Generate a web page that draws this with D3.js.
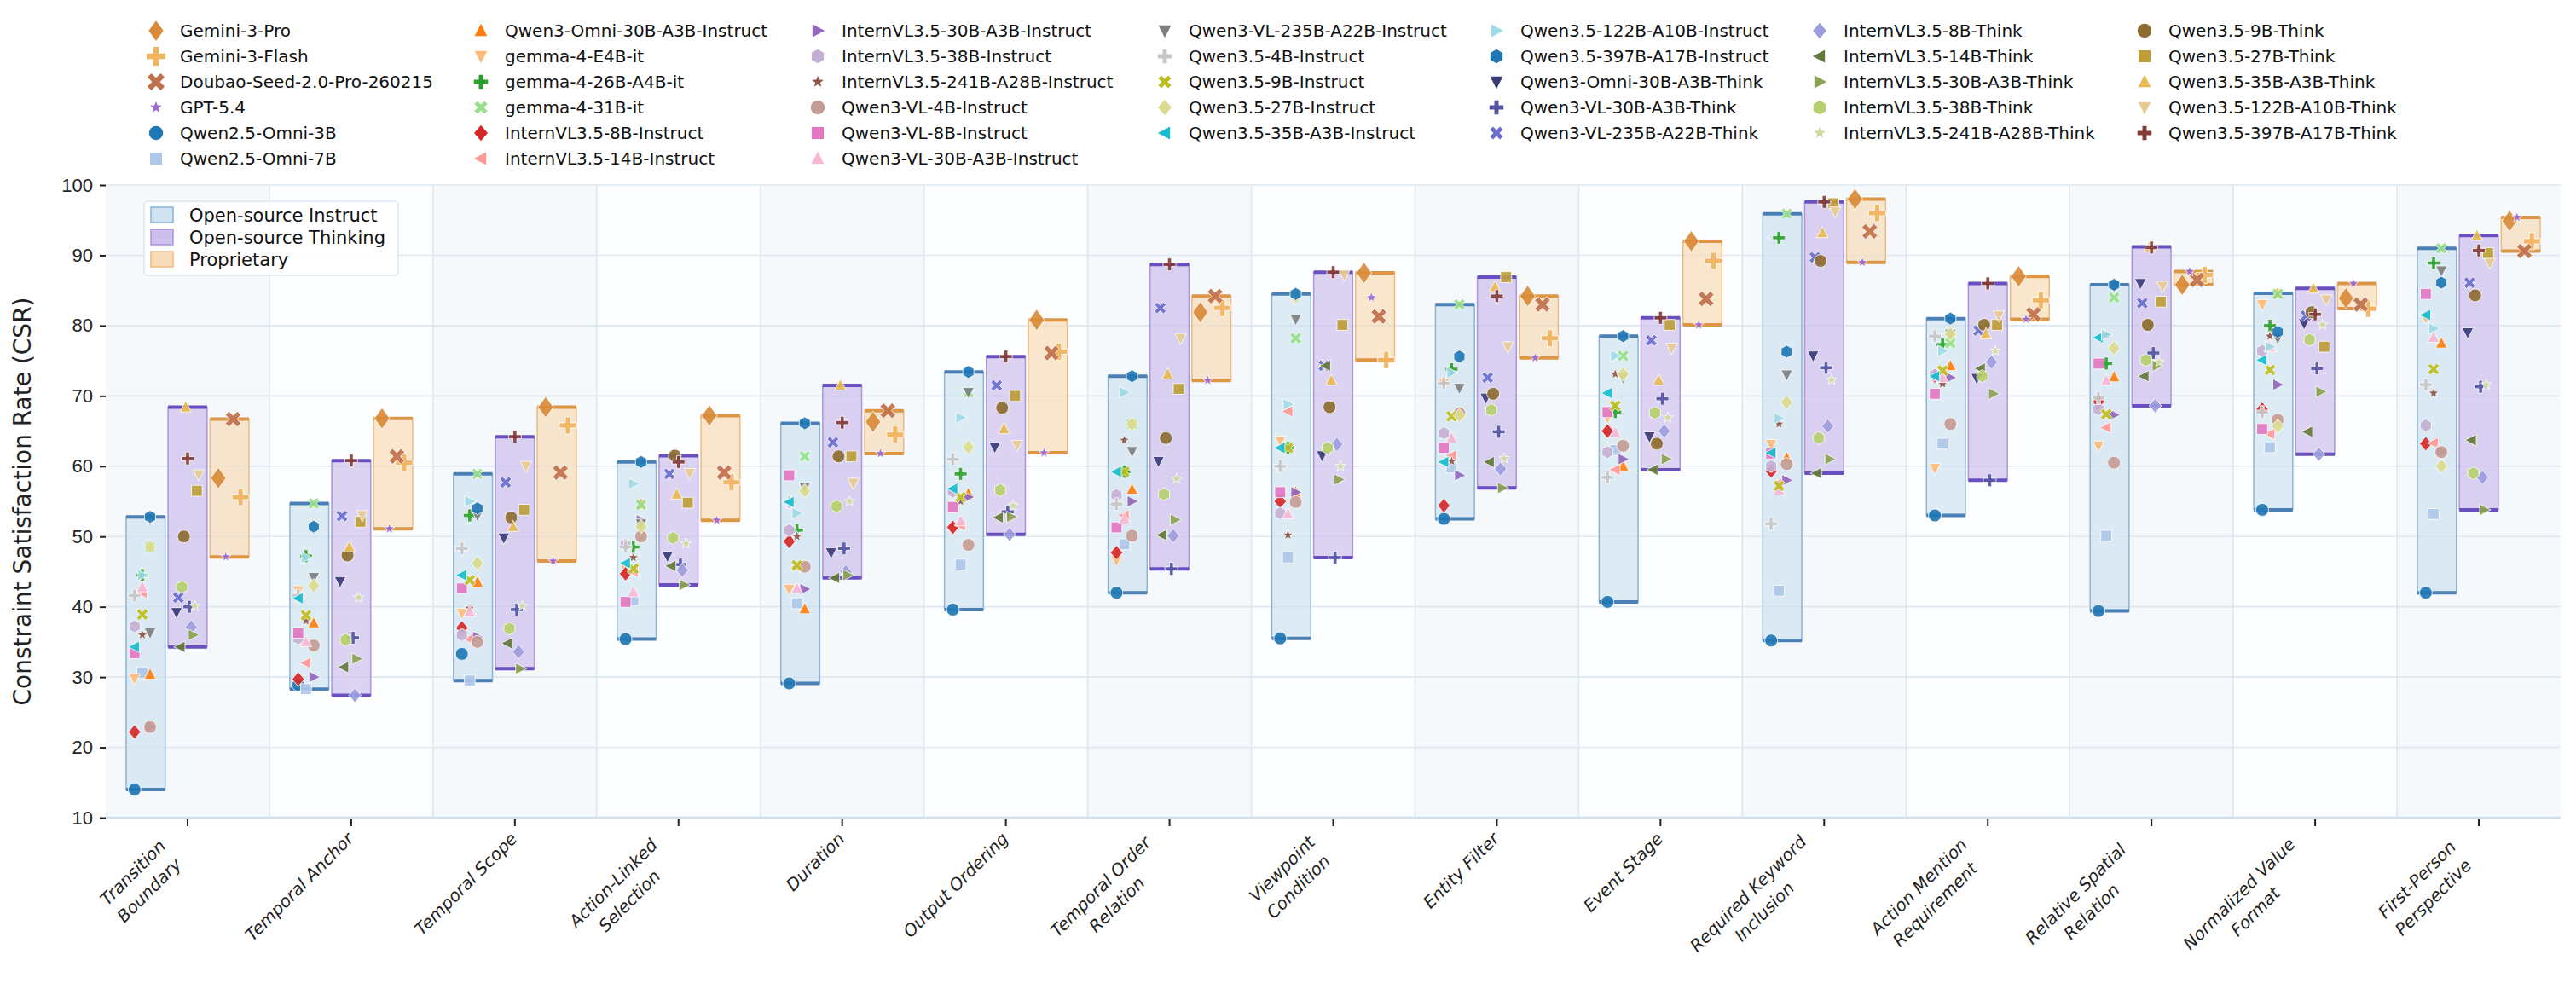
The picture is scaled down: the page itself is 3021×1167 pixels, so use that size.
<!DOCTYPE html>
<html lang="en">
<head>
<meta charset="UTF-8">
<title>CSR by constraint</title>
<script src="https://cdn.jsdelivr.net/npm/d3@7"></script>
<style>
  body { margin: 0; background: white; }
  svg { display: block; font-family: "DejaVu Sans", sans-serif; }
</style>
</head>
<body>
<svg id="chart" width="3021" height="1167"></svg>
<script>
// categories (x axis)
const categories = ["Transition\nBoundary", "Temporal Anchor", "Temporal Scope", "Action-Linked\nSelection",
  "Duration", "Output Ordering", "Temporal Order\nRelation", "Viewpoint\nCondition", "Entity Filter",
  "Event Stage", "Required Keyword\nInclusion", "Action Mention\nRequirement", "Relative Spatial\nRelation",
  "Normalized Value\nFormat", "First-Person\nPerspective"];
const yTicks = [10, 20, 30, 40, 50, 60, 70, 80, 90, 100];

// models: name, group, marker, colour
const modelNames = ["Gemini-3-Pro", "Gemini-3-Flash", "Doubao-Seed-2.0-Pro-260215", "GPT-5.4",
  "Qwen2.5-Omni-3B", "Qwen2.5-Omni-7B", "Qwen3-Omni-30B-A3B-Instruct", "gemma-4-E4B-it", "gemma-4-26B-A4B-it",
  "gemma-4-31B-it", "InternVL3.5-8B-Instruct", "InternVL3.5-14B-Instruct", "InternVL3.5-30B-A3B-Instruct",
  "InternVL3.5-38B-Instruct", "InternVL3.5-241B-A28B-Instruct", "Qwen3-VL-4B-Instruct", "Qwen3-VL-8B-Instruct",
  "Qwen3-VL-30B-A3B-Instruct", "Qwen3-VL-235B-A22B-Instruct", "Qwen3.5-4B-Instruct", "Qwen3.5-9B-Instruct",
  "Qwen3.5-27B-Instruct", "Qwen3.5-35B-A3B-Instruct", "Qwen3.5-122B-A10B-Instruct", "Qwen3.5-397B-A17B-Instruct",
  "Qwen3-Omni-30B-A3B-Think", "Qwen3-VL-30B-A3B-Think", "Qwen3-VL-235B-A22B-Think", "InternVL3.5-8B-Think",
  "InternVL3.5-14B-Think", "InternVL3.5-30B-A3B-Think", "InternVL3.5-38B-Think", "InternVL3.5-241B-A28B-Think",
  "Qwen3.5-9B-Think", "Qwen3.5-27B-Think", "Qwen3.5-35B-A3B-Think", "Qwen3.5-122B-A10B-Think", "Qwen3.5-397B-A17B-Think"];
const modelGroups = ["prop", "prop", "prop", "prop",
  "inst", "inst", "inst", "inst", "inst", "inst", "inst", "inst", "inst", "inst", "inst",
  "inst", "inst", "inst", "inst", "inst", "inst", "inst", "inst", "inst", "inst",
  "think", "think", "think", "think", "think", "think", "think", "think", "think", "think", "think", "think", "think"];
const modelMarkers = ["bigdiamond", "bigplus", "bigx", "star",
  "circle", "square", "up", "down", "plus", "x", "diamond", "left", "right", "hex", "star",
  "circle", "square", "up", "down", "plus", "x", "diamond", "left", "right", "hex",
  "down", "plus", "x", "diamond", "left", "right", "hex", "star",
  "circle", "square", "up", "down", "plus"];
const modelColors = ["#d98b3a", "#f0b35e", "#c0714b", "#9b6bd0",
  "#1f77b4", "#aec7e8", "#ff7f0e", "#ffbb78", "#2ca02c", "#98df8a", "#d62728", "#ff9896", "#9467bd",
  "#c5b0d5", "#8c564b", "#c49c94", "#e377c2", "#f7b6d2", "#7f7f7f", "#c7c7c7", "#bcbd22", "#dbdb8d",
  "#17becf", "#9edae5", "#1f77b4",
  "#393b79", "#5254a3", "#6b6ecf", "#9c9ede", "#637939", "#8ca252", "#b5cf6b", "#cedb9c",
  "#8c6d31", "#bd9e39", "#e7ba52", "#e7cb94", "#843c39"];

// CSR values, one array per model, in category order
const modelValues = [
  [58.3,66.8,68.4,67.2,66.3,80.8,81.9,87.5,84.2,92.0,98.0,87.0,85.8,83.9,94.9],
  [55.6,60.5,65.8,57.7,64.5,76.3,82.5,75.1,78.2,89.2,96.0,83.6,87.2,82.4,92.0],
  [66.7,61.4,59.1,59.1,67.9,76.1,84.2,81.3,83.0,83.8,93.4,81.6,86.5,83.0,90.6],
  [47.1,51.1,46.5,52.3,61.8,61.9,72.2,84.0,75.4,80.1,89.0,80.9,87.7,86.0,95.4],
  [14.0,28.9,33.3,35.4,29.1,39.6,42.0,35.5,52.5,40.7,35.2,53.0,39.4,53.8,42.0],
  [30.6,28.3,29.5,40.9,40.5,46.0,48.9,47.0,59.8,62.3,42.3,63.2,50.1,62.7,53.2],
  [30.4,37.7,43.5,54.6,39.7,56.1,56.7,56.3,67.5,60.0,61.2,74.3,72.7,84.6,77.5],
  [29.8,42.3,39.1,45.5,42.5,51.0,46.6,63.6,71.8,66.9,63.1,59.7,62.9,83.0,81.1],
  [44.5,47.2,53.0,48.5,50.9,58.9,59.2,62.6,73.8,67.7,92.5,77.3,74.6,80.0,88.9],
  [48.5,54.7,58.9,54.5,61.4,70.5,66.0,78.2,83.0,75.7,95.9,77.5,84.0,84.5,91.0],
  [22.2,29.7,37.0,44.7,49.3,51.3,47.7,55.0,54.4,65.0,59.3,72.8,69.2,68.1,63.2],
  [42.0,32.0,35.4,45.0,45.7,51.6,53.0,67.8,61.5,59.5,57.6,73.0,65.5,64.6,63.3],
  [23.0,30.0,35.7,52.3,42.5,55.6,55.0,56.3,58.7,61.0,58.0,72.6,67.3,71.6,62.1],
  [37.2,35.5,36.0,48.8,50.9,56.4,55.9,53.3,64.7,62.0,60.0,73.0,68.1,76.4,65.8],
  [36.0,38.0,39.8,47.0,50.0,55.0,63.7,50.2,60.7,73.1,66.0,71.7,78.7,78.5,70.4],
  [22.9,34.5,35.0,50.0,45.7,48.8,50.1,54.9,67.5,62.9,60.3,66.0,60.5,66.6,62.0],
  [33.4,36.3,42.6,40.7,58.7,54.2,51.3,56.3,62.6,67.7,61.8,70.3,74.6,65.3,84.5],
  [42.8,35.0,39.3,42.1,42.6,52.2,52.5,53.2,64.0,64.8,56.6,72.6,72.2,77.0,78.3],
  [36.3,44.2,53.0,51.8,57.0,70.5,62.1,80.9,71.1,72.6,73.0,78.8,85.6,78.2,87.8],
  [41.6,41.6,48.3,48.5,54.9,61.0,54.6,60.0,71.8,58.4,51.8,78.5,69.7,67.7,71.6],
  [38.9,38.8,43.8,45.4,45.9,55.6,59.2,62.6,67.1,68.6,57.2,73.6,67.4,73.7,73.8],
  [48.5,43.0,46.2,51.4,56.5,62.7,66.0,84.1,67.2,73.1,69.1,78.8,76.8,65.7,60.0],
  [34.3,41.2,44.5,46.2,54.9,56.8,59.2,62.6,60.6,70.4,61.9,72.8,78.3,75.1,81.5],
  [44.5,47.0,55.0,57.5,53.3,66.9,70.5,68.8,73.3,75.7,66.8,76.4,78.7,77.0,79.6],
  [52.8,51.4,54.0,60.6,66.1,73.4,72.8,84.5,75.6,78.5,76.3,81.0,85.8,79.1,86.1],
  [39.2,43.6,49.8,47.2,47.7,62.7,60.7,61.5,69.7,64.2,75.7,72.5,86.0,80.3,79.0],
  [40.0,35.6,39.6,46.0,48.3,53.5,45.4,47.0,64.9,69.6,74.0,58.0,76.1,73.9,71.3],
  [41.3,52.9,57.7,58.9,63.4,71.5,82.5,74.3,72.6,77.9,89.7,79.3,83.2,81.4,86.1],
  [37.1,27.4,33.6,45.2,45.0,50.3,50.1,63.1,59.6,65.0,65.7,74.8,68.6,61.7,58.4],
  [34.3,31.4,34.8,45.8,44.1,52.7,50.2,74.3,60.6,59.5,59.0,73.9,72.8,64.9,63.7],
  [36.0,32.6,31.2,43.1,44.5,52.8,52.4,58.1,56.9,61.0,61.0,70.3,74.3,70.6,53.8],
  [42.8,35.3,36.9,49.8,54.3,56.6,56.0,62.6,68.0,67.6,64.0,72.8,75.1,78.0,59.0],
  [40.1,41.3,40.1,49.0,55.0,54.4,58.2,60.0,61.1,66.9,72.3,76.4,74.8,80.1,71.6],
  [50.0,47.3,52.7,61.5,61.4,68.3,64.0,68.4,70.3,63.2,89.2,80.1,80.1,81.9,84.3],
  [56.5,52.1,53.8,54.8,61.4,70.0,71.0,80.1,86.9,80.1,97.4,80.1,83.4,77.0,90.3],
  [68.4,48.5,51.4,56.0,71.5,65.3,73.1,72.2,85.5,72.2,93.2,78.8,91.2,85.3,92.8],
  [58.8,53.0,60.0,59.0,57.6,63.0,78.2,87.2,77.0,76.8,96.2,81.4,85.6,83.7,88.9],
  [61.1,60.8,64.2,60.6,66.2,75.6,88.7,87.6,84.2,81.1,97.6,86.0,91.1,81.6,90.7]
];

const groups = ["inst", "think", "prop"];
const groupLabels = ["Open-source Instruct", "Open-source Thinking", "Proprietary"];
const groupFill = {inst: "#cfe2f1", think: "#cdbfec", prop: "#f8dcb8"};
const groupEdge = {inst: "#8db3d6", think: "#a996dc", prop: "#ebbb80"};
const groupLine = {inst: "#4a80b5", think: "#6a4fc0", prop: "#dc9645"};

const svg = d3.select("#chart");
const plotL = 124, plotR = 3003, plotT = 217, plotB = 959;

const x = d3.scaleBand().domain(d3.range(categories.length)).range([plotL, plotR]);
const sub = d3.scaleBand().domain(groups).range([-72, 72]).paddingInner(0.07);
const y = d3.scaleLinear().domain([10, 100]).range([plotB, plotT]);

// background bands
svg.append("g").selectAll("rect").data(d3.range(categories.length)).join("rect")
  .attr("x", d => x(d)).attr("y", plotT).attr("width", x.bandwidth()).attr("height", plotB - plotT)
  .attr("fill", d => d % 2 === 0 ? "#f6f9fc" : "#fdfeff");

// grid
svg.append("g").selectAll("line").data(yTicks).join("line")
  .attr("x1", plotL).attr("x2", plotR).attr("y1", d => y(d)).attr("y2", d => y(d))
  .attr("stroke", "#dde8f1").attr("stroke-width", 1.6);
svg.append("g").selectAll("line").data(d3.range(1, categories.length)).join("line")
  .attr("x1", d => x(d)).attr("x2", d => x(d)).attr("y1", plotT).attr("y2", plotB)
  .attr("stroke", "#dde8f1").attr("stroke-width", 1.6);
svg.append("line").attr("x1", plotL).attr("x2", plotR).attr("y1", plotB).attr("y2", plotB)
  .attr("stroke", "#d3e0ea").attr("stroke-width", 2.5);

// axes
const yAxis = svg.append("g").attr("transform", `translate(${plotL},0)`)
  .call(d3.axisLeft(y).tickValues(yTicks).tickSize(7).tickPadding(8));
yAxis.select(".domain").remove();
yAxis.selectAll("text").attr("font-size", 22).attr("fill", "#222");
yAxis.selectAll("line").attr("stroke", "#222").attr("stroke-width", 2);

const xAxis = svg.append("g").attr("transform", `translate(0,${plotB})`)
  .call(d3.axisBottom(x).tickSize(8).tickFormat(""));
xAxis.select(".domain").remove();
xAxis.selectAll("line").attr("stroke", "#222").attr("stroke-width", 2).attr("transform", "translate(0,2)");

// rotated category labels; extra lines stack down-right of the first
categories.forEach((c, i) => {
  const lines = c.split("\n");
  const cx = x(i) + x.bandwidth() / 2;
  const n = lines.length;
  lines.forEach((ln, k) => {
    const shift = n > 1 ? (k - (n - 1) / 2) : 0;
    const ax = cx + 4 + (n > 1 ? -12 : 0) + shift * 19;
    const ay = plotB + 26 + (n > 1 ? 12 : 0) + shift * 21;
    svg.append("text").attr("x", ax).attr("y", ay)
      .attr("transform", `rotate(-45,${ax},${ay})`)
      .attr("text-anchor", n > 1 ? "middle" : "end").attr("font-size", 20).attr("font-style", "italic")
      .attr("dx", n > 1 ? -d3.max(lines, l => l.length) * 5.9 : 0)
      .attr("fill", "#222").text(ln);
  });
});

svg.append("text").attr("transform", `translate(36,${(plotT + plotB) / 2}) rotate(-90)`)
  .attr("text-anchor", "middle").attr("font-size", 28).attr("fill", "#222")
  .text("Constraint Satisfaction Rate (CSR)");

// group range boxes
const boxG = svg.append("g");
categories.forEach((c, ci) => {
  groups.forEach(g => {
    const vals = modelValues.filter((v, mi) => modelGroups[mi] === g).map(v => v[ci]);
    const [lo, hi] = d3.extent(vals);
    const bx = x(ci) + x.bandwidth() / 2 + sub(g);
    boxG.append("rect").attr("x", bx).attr("y", y(hi)).attr("width", sub.bandwidth())
      .attr("height", y(lo) - y(hi)).attr("fill", groupFill[g]).attr("fill-opacity", 0.7)
      .attr("stroke", groupEdge[g]).attr("stroke-width", 1.5);
    [lo, hi].forEach(v => boxG.append("line").attr("x1", bx).attr("x2", bx + sub.bandwidth())
      .attr("y1", y(v)).attr("y2", y(v)).attr("stroke", groupLine[g]).attr("stroke-width", 4));
  });
});

// marker shapes
function markerPath(type, s) {
  const p = d3.path();
  const poly = pts => { pts.forEach((q, i) => i ? p.lineTo(q[0], q[1]) : p.moveTo(q[0], q[1])); p.closePath(); };
  const r = s / 2;
  switch (type) {
    case "circle": p.arc(0, 0, r, 0, 2 * Math.PI); break;
    case "square": poly([[-r*0.85,-r*0.85],[r*0.85,-r*0.85],[r*0.85,r*0.85],[-r*0.85,r*0.85]]); break;
    case "up": poly([[0,-r],[r*0.9,r*0.75],[-r*0.9,r*0.75]]); break;
    case "down": poly([[0,r],[r*0.9,-r*0.75],[-r*0.9,-r*0.75]]); break;
    case "left": poly([[-r,0],[r*0.75,-r*0.9],[r*0.75,r*0.9]]); break;
    case "right": poly([[r,0],[-r*0.75,-r*0.9],[-r*0.75,r*0.9]]); break;
    case "diamond": poly([[0,-r],[r*0.85,0],[0,r],[-r*0.85,0]]); break;
    case "bigdiamond": poly([[0,-r],[r*0.72,0],[0,r],[-r*0.72,0]]); break;
    case "hex": poly(d3.range(6).map(k => [r*Math.cos(Math.PI/6 + k*Math.PI/3), r*Math.sin(Math.PI/6 + k*Math.PI/3)])); break;
    case "plus": case "bigplus": { const w = r * 0.3;
      poly([[-w,-r],[w,-r],[w,-w],[r,-w],[r,w],[w,w],[w,r],[-w,r],[-w,w],[-r,w],[-r,-w],[-w,-w]]); break; }
    case "x": case "bigx": { const w = r * 0.3, c = Math.SQRT1_2;
      const pts = [[-w,-r],[w,-r],[w,-w],[r,-w],[r,w],[w,w],[w,r],[-w,r],[-w,w],[-r,w],[-r,-w],[-w,-w]];
      poly(pts.map(q => [(q[0]-q[1])*c, (q[0]+q[1])*c])); break; }
    case "star": poly(d3.range(10).map(k => { const a = -Math.PI/2 + k*Math.PI/5, rr = k % 2 ? r*0.42 : r;
      return [rr*Math.cos(a), rr*Math.sin(a)]; })); break;
  }
  return p.toString();
}
const markerSize = t => t === "bigdiamond" ? 25 : (t === "bigplus" || t === "bigx") ? 20 :
  t === "star" ? 13 : t === "diamond" ? 17 : 15;

// scatter points, spread across each box by rank within group
const jitter = d3.scaleLinear().domain([0, 1]).range([-13, 13]);
const ptG = svg.append("g");
groups.forEach(g => {
  const members = modelNames.map((n, i) => i).filter(i => modelGroups[i] === g);
  members.forEach((mi, k) => {
    categories.forEach((c, ci) => {
      const frac = members.length > 1 ? ((k * 7) % members.length) / (members.length - 1) : 0.5;
      const px = x(ci) + x.bandwidth() / 2 + sub(g) + sub.bandwidth() / 2 + jitter(frac);
      ptG.append("path").attr("d", markerPath(modelMarkers[mi], markerSize(modelMarkers[mi])))
        .attr("transform", `translate(${px},${y(modelValues[mi][ci])})`)
        .attr("fill", modelColors[mi]).attr("fill-opacity", 0.92)
        .attr("stroke", "white").attr("stroke-width", 0.8);
    });
  });
});

// inner group legend
const lg = svg.append("g");
lg.append("rect").attr("x", 169).attr("y", 236).attr("width", 298).attr("height", 87).attr("rx", 4)
  .attr("fill", "white").attr("fill-opacity", 0.85).attr("stroke", "#dde5ee").attr("stroke-width", 1.5);
groups.forEach((g, i) => {
  const yy = 252 + i * 26;
  lg.append("rect").attr("x", 177).attr("y", yy - 9).attr("width", 26).attr("height", 18)
    .attr("fill", groupFill[g]).attr("stroke", groupEdge[g]).attr("stroke-width", 1.5);
  lg.append("text").attr("x", 222).attr("y", yy).attr("dy", "0.36em").attr("font-size", 21)
    .attr("fill", "#111").text(groupLabels[i]);
});

// top model legend, 7 columns
const colX = [183, 564, 959, 1366, 1755, 2134, 2515];
const colStart = [0, 6, 12, 18, 23, 28, 33, 38];
const tl = svg.append("g");
modelNames.forEach((n, i) => {
  const col = d3.bisectRight(colStart, i) - 1, row = i - colStart[col];
  const yy = 36 + row * 30;
  const t = modelMarkers[i];
  tl.append("path").attr("d", markerPath(t, markerSize(t) * (t === "bigdiamond" ? 0.95 : 1.1)))
    .attr("transform", `translate(${colX[col]},${yy})`).attr("fill", modelColors[i]);
  tl.append("text").attr("x", colX[col] + 28).attr("y", yy).attr("dy", "0.36em")
    .attr("font-size", 20).attr("fill", "#111").text(n);
});
</script>
</body>
</html>
